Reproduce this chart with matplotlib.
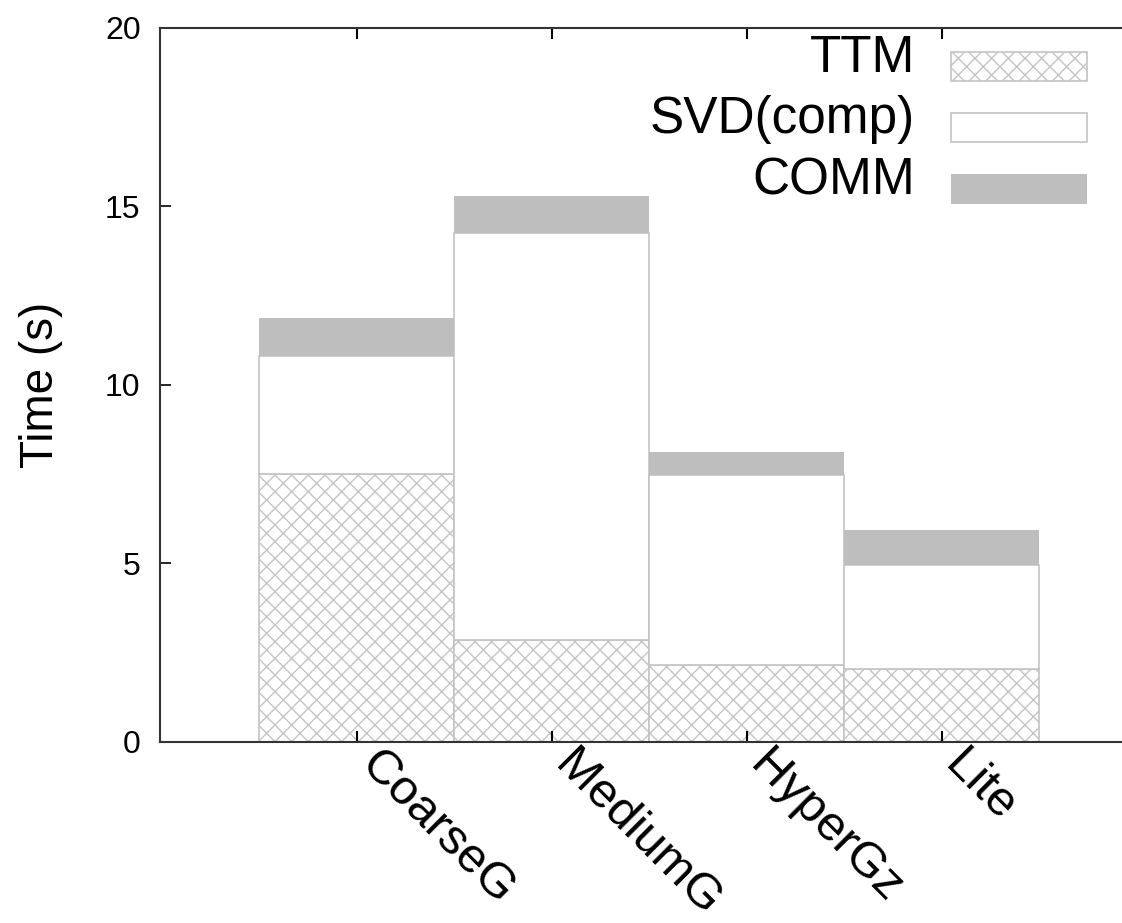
import matplotlib.pyplot as plt
import matplotlib.transforms as mtransforms
from matplotlib.legend_handler import HandlerPatch
from matplotlib.patches import Rectangle
import numpy as np

plt.rcParams["font.family"] = ["Liberation Sans", "DejaVu Sans"]
plt.rcParams["hatch.linewidth"] = 1.0

xlabel = ["CoarseG", "MediumG", "HyperGz", "Lite"]
ttm = [7.50, 2.86, 2.16, 2.04]
svd = [3.31, 11.40, 5.32, 2.92]
comm = [1.07, 1.03, 0.64, 0.98]

xaxis = np.arange(len(xlabel))
ttm = np.array(ttm)
svd = np.array(svd)
comm = np.array(comm)

fig = plt.figure(figsize=(11.22, 9.23), dpi=100)
ax = fig.add_axes([0.1426, 0.1961, 0.869, 0.7736])

b1 = ax.bar(xaxis, ttm, width=1.0, color="white", edgecolor="#c4c4c4",
            hatch="xx", linewidth=1.2)
b2 = ax.bar(xaxis, svd, bottom=ttm, width=1.0, color="white",
            edgecolor="#c4c4c4", linewidth=1.2)
b3 = ax.bar(xaxis, comm, bottom=ttm + svd, width=1.0, color="#bebebe",
            edgecolor="#bebebe", linewidth=0)

ax.set_xlim(-1.01, 3.99)
ax.set_ylim(0, 20)
ax.set_yticks([0, 5, 10, 15, 20])
ax.set_xticks(xaxis)
ax.set_xticklabels(xlabel, rotation=-45, ha="left", va="center",
                   rotation_mode="anchor", fontsize=35.5)
ax.tick_params(axis="y", labelsize=23, direction="in", length=8, width=1.2,
               right=True, pad=14)
ax.tick_params(axis="x", direction="in", length=8, width=1.5, top=True, pad=11.5)
shift = mtransforms.ScaledTranslation(10 / 100, 0, fig.dpi_scale_trans)
for lab in ax.get_xticklabels():
    lab.set_transform(lab.get_transform() + shift)
for s in ax.spines.values():
    s.set_linewidth(1.5)
    s.set_color("#333333")

ax.set_ylabel("Time (s)", fontsize=33, labelpad=30)


def low_rect(legend, orig_handle, xdescent, ydescent, width, height, fontsize):
    # legend boxes sit a bit lower than the text
    return Rectangle((-xdescent, -ydescent - 9), width, height)


ax.legend([b1.patches[0], b2.patches[0], b3.patches[0]],
          ["TTM", "SVD(comp)", "COMM"],
          loc="upper right", bbox_to_anchor=(1087 / 1122, 1 - 34 / 923),
          bbox_transform=fig.transFigure, frameon=False, markerfirst=False,
          fontsize=37, handlelength=2.65, handleheight=0.5,
          handletextpad=0.7, labelspacing=0.24, borderpad=0, borderaxespad=0,
          handler_map={Rectangle: HandlerPatch(patch_func=low_rect)})

plt.savefig("out.png", dpi=100)
